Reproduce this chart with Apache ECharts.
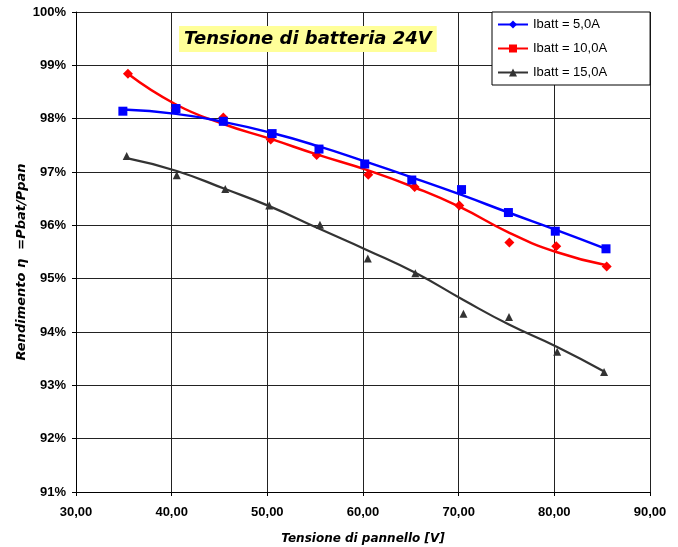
<!DOCTYPE html>
<html>
<head>
<meta charset="utf-8">
<script src="https://cdn.jsdelivr.net/npm/echarts@6/dist/echarts.min.js"></script>
<style>html,body{margin:0;padding:0;background:#fff;}#c{width:678px;height:547px;}</style>
</head>
<body>
<div id="c"></div>
<script>
// Measured points
var x5  = [34.9, 40.45, 45.4, 50.5, 55.4, 60.18, 65.1, 70.3, 75.2, 80.1, 85.4];
var y5  = [98.14, 98.19, 97.95, 97.72, 97.43, 97.15, 96.85, 96.67, 96.24, 95.89, 95.56];
var x10 = [35.43, 40.4, 45.4, 50.35, 55.16, 60.55, 65.4, 70.07, 75.3, 80.2, 85.47];
var y10 = [98.84, 98.2, 98.02, 97.61, 97.32, 96.95, 96.72, 96.37, 95.68, 95.61, 95.23];
var x15 = [35.3, 40.53, 45.6, 50.2, 55.5, 60.5, 65.47, 70.5, 75.26, 80.3, 85.2];
var y15 = [97.30, 96.94, 96.68, 96.37, 96.01, 95.38, 95.10, 94.34, 94.28, 93.63, 93.25];
// Trend lines (at the same x positions)
var t5  = [98.17, 98.09, 97.94, 97.73, 97.48, 97.20, 96.90, 96.57, 96.24, 95.92, 95.56];
var t10 = [98.84, 98.27, 97.90, 97.62, 97.33, 97.03, 96.71, 96.35, 95.86, 95.50, 95.25];
var t15 = [97.26, 97.02, 96.68, 96.36, 95.93, 95.53, 95.11, 94.60, 94.14, 93.72, 93.26];
var names = ['Ibatt = 5,0A', 'Ibatt = 10,0A', 'Ibatt = 15,0A'];
var colors = ['#0000FF', '#FF0000', '#333333'];
var chartTitle = 'Tensione di batteria 24V';
var xTitle = 'Tensione di pannello [V]';
var yTitle = 'Rendimento \u03b7  =Pbat/Ppan';

function pairs(xs, ys){ return xs.map(function(v,i){ return [v, ys[i]]; }); }

var chart = echarts.init(document.getElementById('c'), null, {renderer:'canvas'});
var gridColor = '#222';
chart.setOption({
  animation:false,
  backgroundColor:'#fff',
  title:{
    text: chartTitle, left:179, top:26,
    backgroundColor:'#FFFF99', padding:[4,5,4,5],
    textStyle:{fontFamily:'DejaVu Sans', fontWeight:'bold', fontStyle:'italic', fontSize:18, color:'#000'}
  },
  legend:{
    orient:'vertical', left:492, top:12,
    data: names,
    backgroundColor:'#fff', borderColor:'#000', borderWidth:1, borderRadius:0,
    padding:[6,43,6,5], itemGap:11, itemWidth:30, itemHeight:10, itemTextGap:5,
    textStyle:{fontFamily:'Liberation Sans', fontSize:13, color:'#000'}
  },
  grid:{left:76, right:28, top:12, bottom:55, containLabel:false, outerBoundsMode:'none'},
  xAxis:{
    type:'value', min:30, max:90, interval:10,
    axisLine:{show:true, lineStyle:{color:'#000', width:1}},
    axisTick:{show:true, length:4, lineStyle:{color:'#000'}},
    axisLabel:{margin:14, fontFamily:'Liberation Sans', fontWeight:'bold', fontSize:13, color:'#000',
      formatter:function(v){ return v.toFixed(2).replace('.', ','); }},
    splitLine:{show:true, lineStyle:{color:gridColor, width:1}},
    name: xTitle, nameLocation:'middle', nameGap:41,
    nameTextStyle:{fontFamily:'DejaVu Sans', fontWeight:'bold', fontStyle:'italic', fontSize:12, color:'#000'}
  },
  yAxis:{
    type:'value', min:91, max:100, interval:1,
    axisLine:{show:true, lineStyle:{color:'#000', width:1}},
    axisTick:{show:true, length:4, lineStyle:{color:'#000'}},
    axisLabel:{margin:10, fontFamily:'Liberation Sans', fontWeight:'bold', fontSize:13, color:'#000',
      formatter:function(v){ return Math.round(v) + '%'; }},
    splitLine:{show:true, lineStyle:{color:gridColor, width:1}}
  },
  graphic:[{
    type:'text', x:22, y:262, rotation:Math.PI/2,
    style:{text:yTitle, textAlign:'center', textVerticalAlign:'middle',
      font:'italic bold 13px "DejaVu Sans"', fill:'#000'}
  }],
  series:[
    {name:names[0], type:'line', smooth:true, data:pairs(x5,t5), showSymbol:false, symbol:'diamond', symbolSize:8,
      lineStyle:{color:colors[0], width:2.5}, itemStyle:{color:colors[0]}, z:3},
    {name:names[1], type:'line', smooth:true, data:pairs(x10,t10), showSymbol:false, symbol:'rect', symbolSize:8,
      lineStyle:{color:colors[1], width:2.5}, itemStyle:{color:colors[1]}, z:2},
    {name:names[2], type:'line', smooth:true, data:pairs(x15,t15), showSymbol:false, symbol:'triangle', symbolSize:8,
      lineStyle:{color:colors[2], width:2.2}, itemStyle:{color:colors[2]}, z:2},
    {name:'p10', type:'scatter', data:pairs(x10,y10), symbol:'diamond', symbolSize:10,
      itemStyle:{color:colors[1], opacity:1}, z:4},
    {name:'p5', type:'scatter', data:pairs(x5,y5), symbol:'rect', symbolSize:9,
      itemStyle:{color:colors[0], opacity:1}, z:5},
    {name:'p15', type:'scatter', data:pairs(x15,y15), symbol:'triangle', symbolSize:8,
      itemStyle:{color:colors[2], opacity:1}, z:4}
  ]
});
</script>
</body>
</html>
